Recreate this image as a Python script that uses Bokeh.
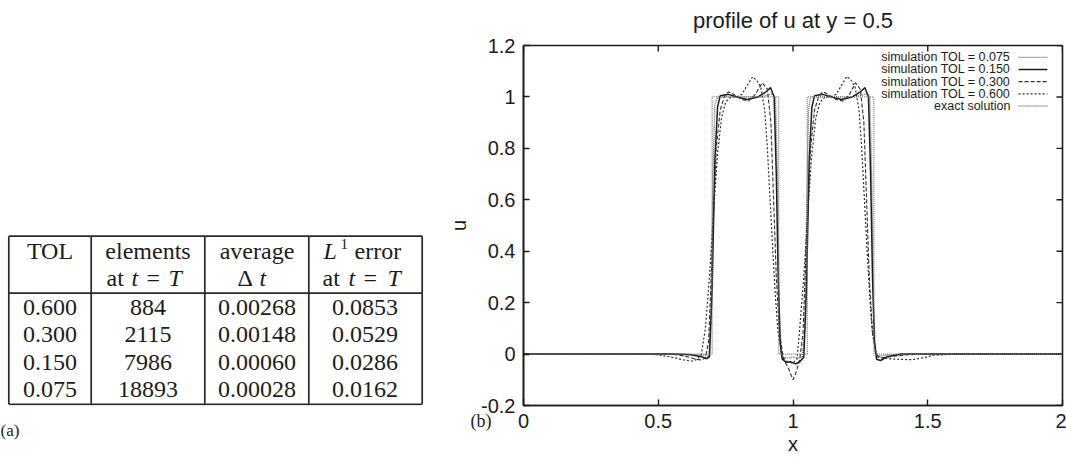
from bokeh.plotting import figure
from bokeh.layouts import row
from bokeh.models import Range1d, FixedTicker, Label, ColumnDataSource
from bokeh.core.properties import value
from bokeh.embed import file_html
from bokeh.resources import INLINE

# ---------------- data: table (a) ----------------
tol_values = ["0.600", "0.300", "0.150", "0.075"]
elements_at_T = ["884", "2115", "7986", "18893"]
average_dt = ["0.00268", "0.00148", "0.00060", "0.00028"]
l1_error_at_T = ["0.0853", "0.0529", "0.0286", "0.0162"]

# ---------------- data: profile plot (b) ----------------
x_tick_values = [0.0, 0.5, 1.0, 1.5, 2.0]
x_tick_labels = ["0", "0.5", "1", "1.5", "2"]
y_tick_values = [-0.2, 0.0, 0.2, 0.4, 0.6, 0.8, 1.0, 1.2]
y_tick_labels = ["-0.2", "0", "0.2", "0.4", "0.6", "0.8", "1", "1.2"]

x_exact = [0.0, 0.70, 0.70, 0.947, 0.947, 1.053, 1.053, 1.30, 1.30, 2.0]
u_exact = [0.0, 0.0, 1.0, 1.0, 0.0, 0.0, 1.0, 1.0, 0.0, 0.0]

x_tol075 = [0.0, 0.60, 0.67, 0.688, 0.696, 0.703, 0.71, 0.72, 0.80, 0.88, 0.925, 0.935,
            0.942, 0.949, 0.956, 0.965, 0.98, 1.0, 1.02, 1.035, 1.044, 1.051, 1.058, 1.065,
            1.075, 1.15, 1.23, 1.275, 1.285, 1.292, 1.299, 1.306, 1.315, 1.34, 1.45, 2.0]
u_tol075 = [0.0, 0.0, -0.005, -0.01, 0.15, 0.7, 0.97, 1.0, 1.0, 1.0, 1.012, 1.0,
            0.7, 0.2, 0.0, -0.012, -0.015, -0.012, -0.015, -0.012, 0.1, 0.6, 0.95, 1.0,
            1.0, 1.0, 1.0, 1.012, 1.0, 0.7, 0.2, 0.0, -0.01, -0.005, 0.0, 0.0]

x_tol150 = [0.0, 0.55, 0.62, 0.66, 0.68, 0.69, 0.70, 0.71, 0.72, 0.73, 0.76, 0.80, 0.83,
            0.87, 0.90, 0.917, 0.93, 0.938, 0.945, 0.952, 0.96, 0.975, 0.99, 1.01, 1.025,
            1.04, 1.05, 1.06, 1.07, 1.08, 1.11, 1.15, 1.18, 1.22, 1.25, 1.267, 1.28, 1.288,
            1.295, 1.302, 1.31, 1.325, 1.35, 1.40, 2.0]
u_tol150 = [0.0, 0.0, -0.003, -0.01, -0.018, -0.01, 0.25, 0.75, 0.96, 1.005, 1.01, 0.998, 0.99,
            1.0, 1.02, 1.036, 1.0, 0.7, 0.3, 0.05, -0.02, -0.032, -0.03, -0.038, -0.03,
            -0.012, 0.25, 0.75, 0.96, 1.005, 1.01, 0.998, 0.99, 1.0, 1.02, 1.036, 1.0, 0.7,
            0.3, 0.05, -0.02, -0.025, -0.01, 0.0, 0.0]

x_tol300 = [0.0, 0.55, 0.60, 0.64, 0.66, 0.675, 0.687, 0.70, 0.715, 0.73, 0.745, 0.76, 0.78,
            0.81, 0.835, 0.86, 0.886, 0.905, 0.918, 0.928, 0.938, 0.95, 0.965, 0.985, 1.0,
            1.012, 1.025, 1.037, 1.05, 1.065, 1.08, 1.095, 1.11, 1.13, 1.16, 1.185, 1.21,
            1.232, 1.25, 1.263, 1.273, 1.283, 1.295, 1.31, 1.33, 1.36, 1.42, 1.5, 2.0]
u_tol300 = [0.0, 0.0, -0.008, -0.02, -0.023, -0.015, 0.05, 0.4, 0.8, 0.95, 1.0, 1.02, 1.01,
            0.99, 0.984, 1.01, 1.055, 1.03, 0.9, 0.6, 0.3, 0.08, -0.02, -0.06, -0.1,
            -0.07, -0.02, 0.08, 0.45, 0.8, 0.95, 1.0, 1.02, 1.01, 0.99, 0.984, 1.01,
            1.055, 1.03, 0.9, 0.6, 0.3, 0.08, -0.005, -0.015, -0.01, -0.003, 0.0, 0.0]

x_tol600 = [0.0, 0.45, 0.5, 0.55, 0.60, 0.625, 0.645, 0.66, 0.675, 0.69, 0.705, 0.72, 0.735,
            0.75, 0.77, 0.79, 0.81, 0.83, 0.85, 0.865, 0.88, 0.895, 0.905, 0.915, 0.925,
            0.935, 0.945, 0.96, 0.98, 1.0, 1.015, 1.025, 1.04, 1.055, 1.07, 1.085, 1.10,
            1.12, 1.14, 1.16, 1.18, 1.20, 1.215, 1.23, 1.245, 1.255, 1.265, 1.275, 1.285,
            1.295, 1.31, 1.33, 1.38, 1.44, 1.48, 1.52, 1.6, 2.0]
u_tol600 = [0.0, 0.0, -0.003, -0.012, -0.024, -0.027, -0.02, 0.0, 0.1, 0.3, 0.55, 0.78, 0.92,
            0.98, 1.0, 1.0, 1.01, 1.045, 1.078, 1.065, 1.04, 0.95, 0.8, 0.6, 0.4,
            0.22, 0.08, -0.01, -0.03, -0.035, -0.02, 0.1, 0.3, 0.55, 0.78, 0.92, 0.98,
            1.0, 1.0, 1.01, 1.045, 1.08, 1.065, 1.04, 0.95, 0.8, 0.6, 0.4, 0.22,
            0.08, -0.01, -0.015, -0.02, -0.022, -0.015, -0.005, 0.0, 0.0]

legend_labels = ["simulation TOL = 0.075", "simulation TOL = 0.150",
                 "simulation TOL = 0.300", "simulation TOL = 0.600", "exact solution"]

# ---------------- styles ----------------
INK = "#1c1c1c"
SERIF_NAME = "Liberation Serif"
SERIF = value(SERIF_NAME)
SANS = "Liberation Sans"
series_styles = [
    dict(color="#5e5e5e", dash="1 1", width=1.3),   # 0.075
    dict(color="#1c1c1c", dash="solid", width=1.5),  # 0.150
    dict(color="#2e2e2e", dash="4 2", width=1.1),   # 0.300
    dict(color="#2e2e2e", dash="2 2", width=1.2),   # 0.600
    dict(color="#7a7a7a", dash="1 1", width=1.3),   # exact
]

W, H = 1066, 457
LEFT_W = 440
TOP, BOTTOM = 45, 50          # borders shared by both panels (frames are aligned)

# ================= table figure (pixel coordinates) =================
t = figure(width=LEFT_W, height=H, x_range=Range1d(0, LEFT_W),
           y_range=Range1d(H - BOTTOM, TOP),
           output_backend="svg", toolbar_location=None,
           min_border_left=0, min_border_right=0, min_border_top=TOP, min_border_bottom=BOTTOM,
           x_axis_type=None, y_axis_type=None, outline_line_color=None)

tx = [8.3, 90.7, 204.3, 308.3, 421.7]
ty = [236.7, 294.0, 405.8]
t.segment(x0=[tx[0]] * 3, y0=ty, x1=[tx[-1]] * 3, y1=ty, line_color="#2a2a2a", line_width=1.7)
t.segment(x0=tx, y0=[ty[0]] * 5, x1=tx, y1=[ty[-1]] * 5, line_color="#2a2a2a", line_width=1.7)

col_centers = [49.5, 147.5, 256.5, 364.5]
row_mid = [308.4, 335.9, 363.4, 391.0]
for cx, vals in zip(col_centers, [tol_values, elements_at_T, average_dt, l1_error_at_T]):
    src = ColumnDataSource(dict(x=[cx] * len(vals), y=row_mid, text=vals))
    t.text(x="x", y="y", text="text", source=src, text_align="center", text_baseline="middle",
           text_font=SERIF, text_font_size="24px", text_color=INK)

hm1, hm2 = 251.5, 278.5
header_upright = [("TOL", 49.5, hm1, "center"), ("elements", 147.5, hm1, "center"),
                  ("average", 256.5, hm1, "center"), ("error", 354, hm1, "left"),
                  ("at", 106, hm2, "left"), ("=", 146, hm2, "left"),
                  ("\u0394", 237, hm2, "left"),
                  ("at", 322, hm2, "left"), ("=", 363, hm2, "left")]
header_italic = [("L", 323, hm1), ("t", 131, hm2), ("T", 168, hm2), ("t", 259, hm2),
                 ("t", 348, hm2), ("T", 387, hm2)]
for s, x, y, al in header_upright:
    t.text(x=[x], y=[y], text=[s], text_align=al, text_baseline="middle",
           text_font=SERIF, text_font_size="24px", text_color=INK)
for s, x, y in header_italic:
    t.text(x=[x], y=[y], text=[s], text_align="left", text_baseline="middle",
           text_font=SERIF, text_font_size="24px", text_font_style="italic", text_color=INK)
t.text(x=[340], y=[244.5], text=["1"], text_align="left", text_baseline="middle",
       text_font=SERIF, text_font_size="15px", text_color=INK)
# panel tag, placed in a side panel so that it is not clipped to the frame
t.add_layout(Label(x=0, y=432, text="(a)", text_font=SERIF_NAME, text_font_size="17px",
                   text_color=INK, text_align="left", text_baseline="middle"), "below")

# ================= profile plot =================
p = figure(width=W - LEFT_W, height=H, x_range=Range1d(0, 2), y_range=Range1d(-0.2, 1.2),
           output_backend="svg", toolbar_location=None,
           min_border_left=83, min_border_right=4, min_border_top=TOP, min_border_bottom=BOTTOM)
p.grid.visible = False
p.outline_line_color = INK
p.outline_line_width = 1.6

p.xaxis.ticker = FixedTicker(ticks=x_tick_values)
p.xaxis.major_label_overrides = dict(zip(x_tick_values, x_tick_labels))
p.yaxis.ticker = FixedTicker(ticks=y_tick_values)
p.yaxis.major_label_overrides = dict(zip(y_tick_values, y_tick_labels))
for ax in p.axis:
    ax.major_tick_in = 6
    ax.major_tick_out = 0
    ax.minor_tick_line_color = None
    ax.axis_line_color = INK
    ax.axis_line_width = 1.6
    ax.major_tick_line_color = INK
    ax.major_tick_line_width = 1.4
    ax.major_label_text_font = SANS
    ax.major_label_text_font_size = "20px"
    ax.major_label_text_color = INK
    ax.axis_label_text_font = SANS
    ax.axis_label_text_font_size = "20px"
    ax.axis_label_text_font_style = "normal"
    ax.axis_label_text_color = INK

p.xaxis.axis_label = "x"
p.xaxis.major_label_standoff = 8
p.xaxis.axis_label_standoff = 2
p.yaxis.axis_label = "u"
p.yaxis.major_label_standoff = 8
p.yaxis.axis_label_standoff = 8

# mirrored inward ticks on the top and right edges (gnuplot style)
px_per_x = 539.0 / 2.0
px_per_u = 362.0 / 1.4
tick_len = 6
p.segment(x0=x_tick_values, y0=[1.2] * len(x_tick_values), x1=x_tick_values,
          y1=[1.2 - tick_len / px_per_u] * len(x_tick_values), line_color=INK, line_width=1.4)
p.segment(x0=[2.0] * len(y_tick_values), y0=y_tick_values,
          x1=[2.0 - tick_len / px_per_x] * len(y_tick_values), y1=y_tick_values,
          line_color=INK, line_width=1.4)

series = [(x_tol075, u_tol075), (x_tol150, u_tol150), (x_tol300, u_tol300),
          (x_tol600, u_tol600), (x_exact, u_exact)]
for (xs, us), st in zip(series, series_styles):
    p.line(xs, us, line_color=st["color"], line_dash=st["dash"], line_width=st["width"])

# legend (gnuplot style: text right-justified, sample to the right)
leg_top, leg_step = 1.154, 0.0473
leg_y = [leg_top - i * leg_step for i in range(len(legend_labels))]
p.text(x=[1.807] * len(legend_labels), y=leg_y, text=legend_labels, text_align="right",
       text_baseline="middle", text_font=value(SANS), text_font_size="12.5px", text_color=INK)
for yy, st in zip(leg_y, series_styles):
    p.line([1.837, 1.944], [yy, yy], line_color=st["color"], line_dash=st["dash"],
           line_width=st["width"])

# title and panel tag as unclipped labels in the top panel
p.add_layout(Label(x=1.0, y=1.2 + 25 / px_per_u, text="profile of u at y = 0.5",
                   text_font=SANS, text_font_size="22px", text_color=INK,
                   text_align="center", text_baseline="middle"), "above")
p.add_layout(Label(x=-53 / px_per_x, y=-0.2 - 16 / px_per_u, text="(b)",
                   text_font=SERIF_NAME, text_font_size="18px", text_color=INK,
                   text_align="left", text_baseline="middle"), "above")

layout = row(t, p)
open("out.html", "w").write(file_html(layout, INLINE))
